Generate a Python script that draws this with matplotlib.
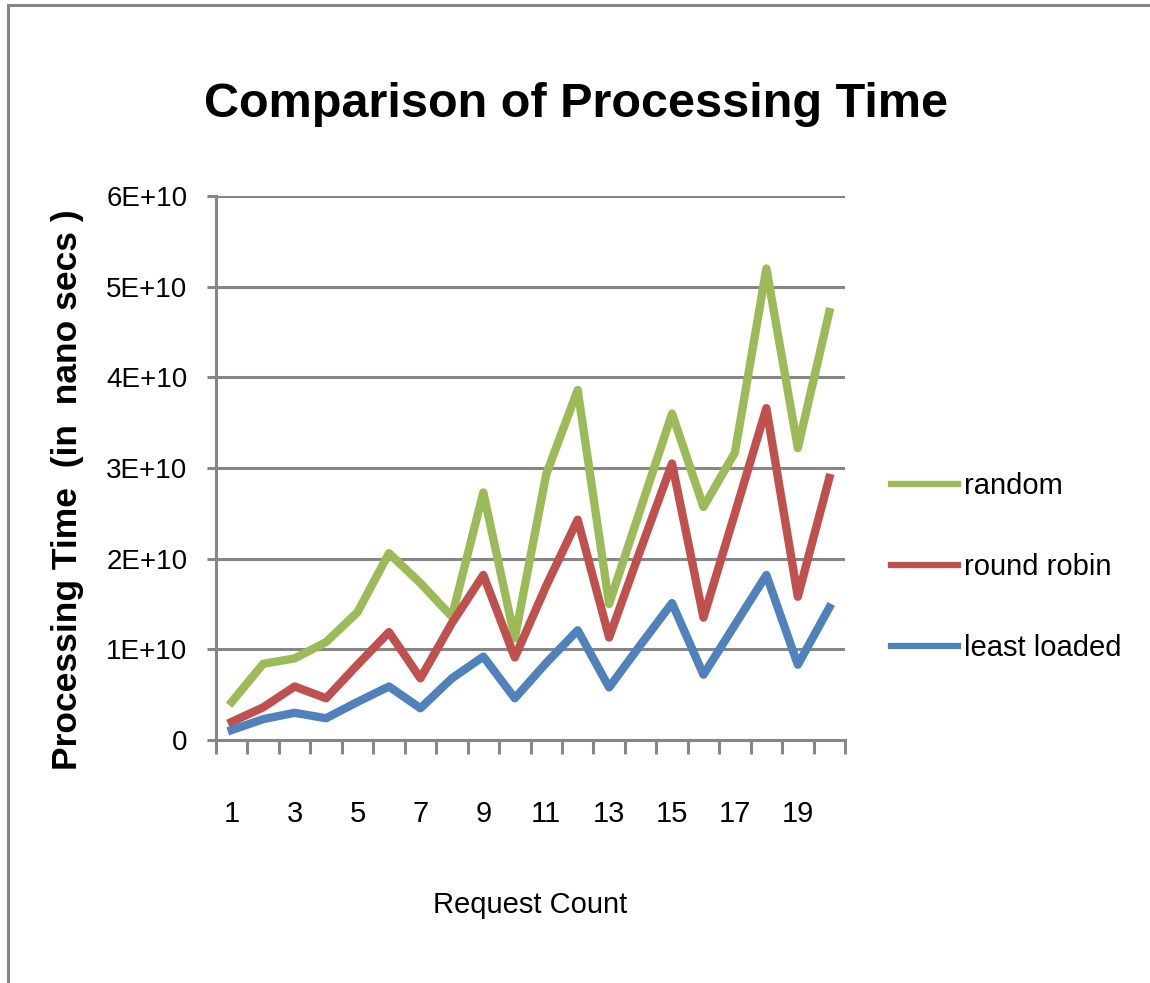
import matplotlib
matplotlib.use("Agg")
from matplotlib import pyplot as plt
from matplotlib.patches import Rectangle

# processing time per request count, nano seconds
request_count = list(range(1, 21))
random_t = [4.2e9, 8.4e9, 9.0e9, 1.08e10, 1.41e10, 2.06e10, 1.73e10, 1.36e10, 2.73e10, 1.12e10,
            2.93e10, 3.86e10, 1.5e10, 2.55e10, 3.6e10, 2.57e10, 3.17e10, 5.2e10, 3.22e10, 4.72e10]
round_robin_t = [2.0e9, 3.6e9, 5.9e9, 4.6e9, 8.3e9, 1.19e10, 6.8e9, 1.29e10, 1.82e10, 9.1e9,
                 1.7e10, 2.43e10, 1.13e10, 2.1e10, 3.05e10, 1.35e10, 2.5e10, 3.66e10, 1.58e10, 2.89e10]
least_loaded_t = [1.1e9, 2.3e9, 3.0e9, 2.4e9, 4.2e9, 5.9e9, 3.5e9, 6.8e9, 9.2e9, 4.6e9,
                  8.5e9, 1.21e10, 5.8e9, 1.05e10, 1.51e10, 7.2e9, 1.27e10, 1.82e10, 8.3e9, 1.46e10]

y_ticks = [0, 1e10, 2e10, 3e10, 4e10, 5e10, 6e10]
y_labels = ['0', '1E+10', '2E+10', '3E+10', '4E+10', '5E+10', '6E+10']

plt.rcParams['font.family'] = ['Liberation Sans', 'DejaVu Sans']
grey = '#868686'

fig = plt.figure(figsize=(11.5, 9.83), dpi=100)
W, H = 1150.0, 983.0
ax = fig.add_axes([216 / W, 1 - 740 / H, (845 - 216) / W, (740 - 196) / H])

# chart area border
fig.patches.append(Rectangle((8 / W, -0.1), 1.2, 1.1 - 5 / H, transform=fig.transFigure,
                             fill=False, edgecolor=grey, linewidth=2.2))

ax.plot(request_count, random_t, color='#9BBB59', lw=6, label='random')
ax.plot(request_count, round_robin_t, color='#C0504D', lw=6, label='round robin')
ax.plot(request_count, least_loaded_t, color='#4F81BD', lw=6, label='least loaded')

ax.set_xlim(0.5, 20.5)
ax.set_ylim(0, 6e10)
ax.set_yticks(y_ticks)
ax.set_yticklabels(y_labels, fontsize=20)
ax.yaxis.grid(True, color=grey, linewidth=2.2)
ax.set_axisbelow(True)

# tick marks between categories, labels on odd counts
ax.set_xticks([k + 0.5 for k in range(0, 21)])
ax.set_xticklabels([])
ax.set_xticks(request_count[::2], minor=True)
ax.set_xticklabels([str(c) for c in request_count[::2]], minor=True, fontsize=21)
ax.tick_params(axis='x', which='major', direction='out', length=10, width=2.2, color=grey)
ax.tick_params(axis='x', which='minor', length=0, pad=43)
ax.tick_params(axis='y', direction='out', length=6.5, width=2.2, color=grey, pad=14)

for side in ['top', 'right']:
    ax.spines[side].set_visible(False)
for side in ['left', 'bottom']:
    ax.spines[side].set_color(grey)
    ax.spines[side].set_linewidth(2.2)

fig.text(576 / W, 1 - 117 / H, 'Comparison of Processing Time', ha='center', va='baseline',
         fontsize=35, fontweight='bold')
fig.text(530 / W, 1 - 913 / H, 'Request Count', ha='center', va='baseline', fontsize=21)
fig.text(68 / W, 1 - 490 / H, 'Processing Time  (in  nano secs )', ha='center', va='center',
         rotation=90, fontweight='bold', fontsize=25.5)

leg = ax.legend(loc='center left', bbox_to_anchor=(891 / W, 1 - 567 / H),
                bbox_transform=fig.transFigure, frameon=False, fontsize=21,
                handlelength=2.3, handletextpad=0.2, labelspacing=1.82,
                borderaxespad=0, borderpad=0)
for line in leg.get_lines():
    line.set_linewidth(4.5)

fig.savefig('out.png', dpi=100)
